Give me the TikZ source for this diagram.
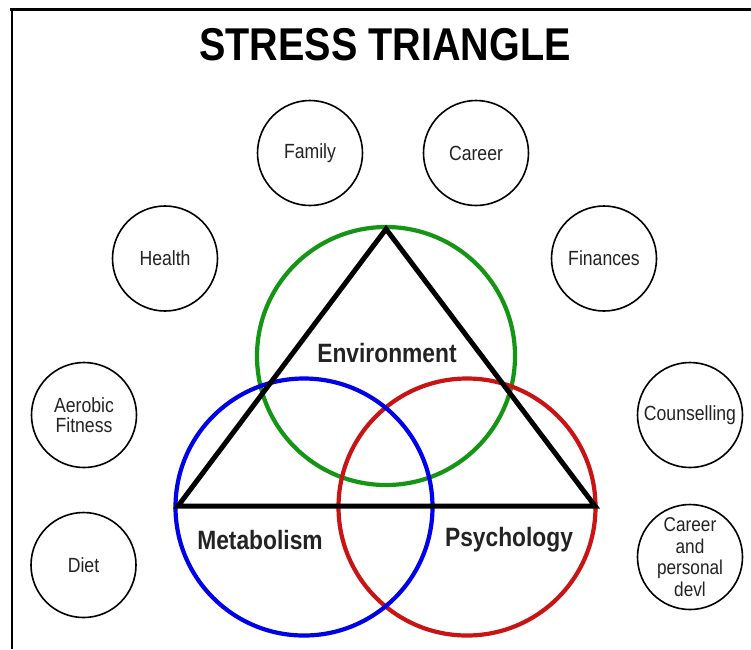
\documentclass[tikz,border=0pt]{standalone}
\usepackage{fontspec}
\setmainfont{Liberation Sans}
\newfontfamily\condfont[FakeStretch=0.86]{Liberation Sans}
\definecolor{cgreen}{RGB}{20,150,20}
\definecolor{cblue}{RGB}{0,0,235}
\definecolor{cred}{RGB}{200,20,20}
\definecolor{ctext}{RGB}{35,35,35}
\begin{document}
\begin{tikzpicture}[x=1pt,y=-1pt,
  factor/.style={circle,draw=black,line width=1.6pt,minimum size=105pt,inner sep=0pt,
    align=center,font=\condfont\fontsize{20.5}{21}\selectfont,text=ctext},
  ring/.style={line width=4.2pt},
  area/.style={font=\condfont\bfseries\fontsize{26.5}{27}\selectfont,text=ctext}]
\useasboundingbox (0,0) rectangle (751,649);
\fill[white] (0,0) rectangle (751,649);
% frame
\draw[line width=3pt] (10,9.5) -- (751,9.5);
\draw[line width=2.2pt] (12,9.5) -- (12,649);
% title
\node[font=\condfont\bfseries\fontsize{46}{48}\selectfont] (title) at (385,45) {STRESS TRIANGLE};
% outer factors
\node[factor] (family) at (310,153) {Family};
\node[factor] (career) at (476,153) {Career};
\node[factor] (health) at (165,258.5) {Health};
\node[factor] (finances) at (604,258.5) {Finances};
\node[factor] (aerobic) at (84,415) {Aerobic\\[-1pt]Fitness};
\node[factor] (counsel) at (690,415) {Counselling};
\node[factor] (diet) at (83.5,565) {Diet};
\node[factor,font=\condfont\fontsize{20}{21.5}\selectfont] (cpd) at (690,557) {Career\\and\\personal\\devl};
% rings
\draw[ring,cgreen] (386,356) circle (129);
\draw[ring,cred] (467,507) circle (128.5);
\draw[ring,cblue] (304,507) circle (128.5);
% triangle
\coordinate (apex) at (386,229);
\coordinate (bl) at (178,506);
\coordinate (br) at (595,506);
\draw[line width=5pt,line join=miter] (apex) -- (bl) -- (br) -- cycle;
% area labels
\node[area] (env) at (387,353) {Environment};
\node[area] (met) at (260,540) {Metabolism};
\node[area] (psy) at (509,540) {Psychology};
\end{tikzpicture}
\end{document}
